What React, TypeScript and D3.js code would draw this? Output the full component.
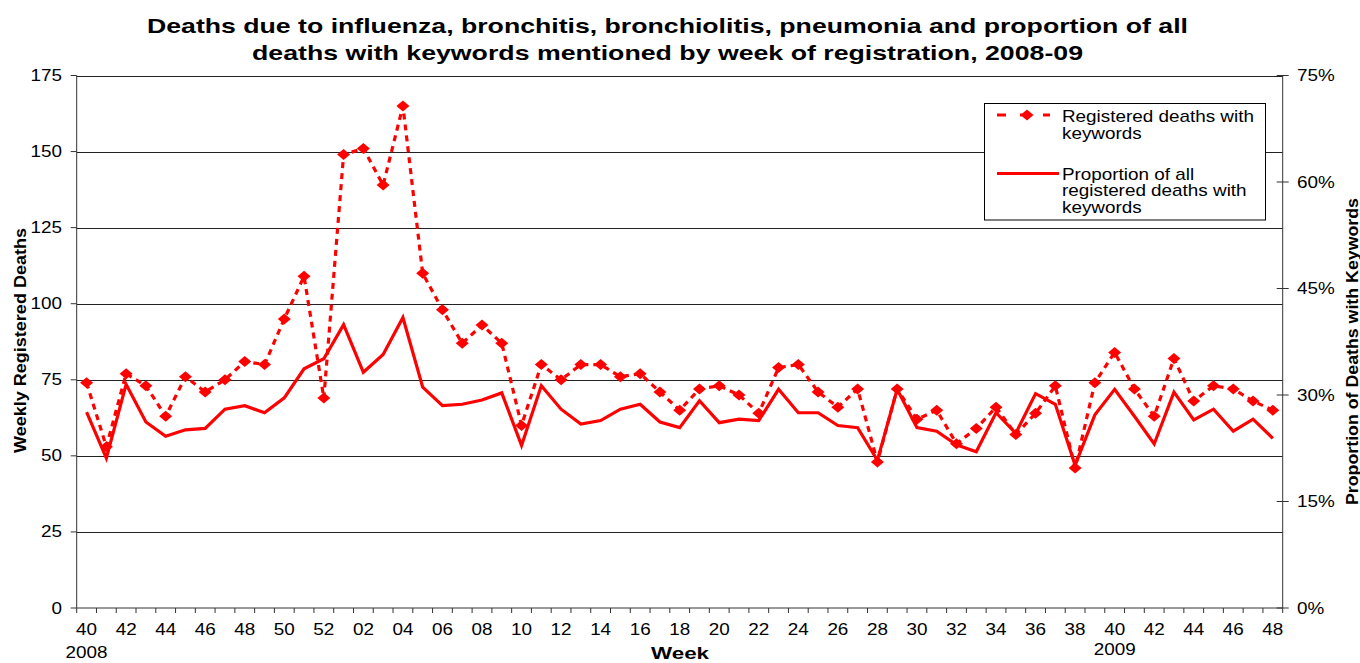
import React from "react";
import * as d3 from "d3";

const weeks = [
  "40","41","42","43","44","45","46","47","48","49","50","51","52",
  "01","02","03","04","05","06","07","08","09","10","11","12","13","14","15","16","17","18","19","20",
  "21","22","23","24","25","26","27","28","29","30","31","32","33","34","35","36","37","38","39","40",
  "41","42","43","44","45","46","47","48",
];
const years = [
  ...Array(13).fill(2008),
  ...Array(48).fill(2009),
];
const deaths = [
  74,53,77,73,63,76,71,75,81,80,95,109,69,
  149,151,139,165,110,98,87,93,87,60,
  80,75,80,80,76,77,71,65,72,73,
  70,64,79,80,71,66,72,48,72,62,
  65,54,59,66,57,64,73,46,74,84,
  72,63,82,68,73,72,68,65,
];
const proportion = [
  27.6,21.1,31.5,26.2,24.2,25.1,25.3,28.0,28.5,27.5,29.6,33.7,35.1,
  39.9,33.2,35.7,40.9,31.1,28.5,28.7,29.3,30.3,22.9,
  31.3,28.0,25.9,26.4,28.0,28.7,26.2,25.4,29.2,26.1,
  26.6,26.4,30.8,27.5,27.5,25.7,25.4,20.8,30.8,25.4,
  24.9,23.0,22.0,27.5,24.6,30.2,28.7,20.1,27.2,30.8,
  27.0,23.1,30.4,26.5,28.0,24.9,26.6,23.9,
];
const leftTicks = [0, 25, 50, 75, 100, 125, 150, 175];
const rightTicks = [0, 15, 30, 45, 60, 75];
const titleLines = [
  "Deaths due to influenza, bronchitis, bronchiolitis, pneumonia and proportion of all",
  "deaths with keywords mentioned by week of registration, 2008-09",
];
const legendDeaths = ["Registered deaths with", "keywords"];
const legendProp = ["Proportion of all", "registered deaths with", "keywords"];

const FONT = "'Liberation Sans', Arial, sans-serif";
const RED = "#FF0000";
const SX = 1.18;

function T(props: { x: number; y: number; anchor?: string; size?: number; bold?: boolean; children: React.ReactNode }) {
  const { x, y, anchor = "start", size = 16, bold = false, children } = props;
  return (
    <text transform={`translate(${x},${y}) scale(${SX},1)`} textAnchor={anchor} fontSize={size} fontWeight={bold ? "bold" : "normal"} fill="#000">
      {children}
    </text>
  );
}

export default function App() {
  const L = 76.7, R = 1282.7, Tp = 75.5, B = 608;
  const keys = weeks.map((w, i) => `${years[i]}-${w}-${i}`);
  const x = d3.scaleBand<string>().domain(keys).range([L, R]).paddingInner(0).paddingOuter(0);
  const bw = x.bandwidth();
  const cx = (i: number) => (x(keys[i]) as number) + bw / 2;
  const yL = d3.scaleLinear().domain([0, 175]).range([B, Tp]);
  const yR = d3.scaleLinear().domain([0, 75]).range([B, Tp]);

  const deathLine = d3.line<number>().x((_, i) => cx(i)).y((d) => yL(d))(deaths) || "";
  const propLine = d3.line<number>().x((_, i) => cx(i)).y((d) => yR(d))(proportion) || "";
  const diamond = "M0,-5.5L6.5,0L0,5.5L-6.5,0Z";

  const boundaries = [...keys.map((k) => x(k) as number), R];

  return (
    <svg width={1360} height={663} style={{ position: "absolute", left: 0, top: 0, display: "block" }} fontFamily={FONT}>
      <rect width={1360} height={663} fill="#fff" />
      {/* title */}
      <text x={667.5} y={33} textAnchor="middle" fontWeight="bold" fontSize={21} fill="#000" textLength={1041} lengthAdjust="spacingAndGlyphs">{titleLines[0]}</text>
      <text x={667.5} y={60} textAnchor="middle" fontWeight="bold" fontSize={21} fill="#000" textLength={831} lengthAdjust="spacingAndGlyphs">{titleLines[1]}</text>
      {/* gridlines */}
      {leftTicks.filter((t) => t > 0).map((t) => (
        <line key={t} x1={L} x2={R} y1={Math.round(yL(t)) + 0.5} y2={Math.round(yL(t)) + 0.5} stroke="#222" strokeWidth={1} />
      ))}
      {/* axes */}
      <line x1={L} x2={L} y1={Tp} y2={B} stroke="#333" />
      <line x1={R} x2={R} y1={Tp} y2={B} stroke="#333" />
      <line x1={L} x2={R} y1={B} y2={B} stroke="#333" />
      {leftTicks.map((t) => (
        <g key={t}>
          <line x1={L - 6} x2={L} y1={yL(t)} y2={yL(t)} stroke="#333" />
          <T x={62} y={yL(t) + 5.5} anchor="end">{t}</T>
        </g>
      ))}
      {rightTicks.map((t) => (
        <g key={t}>
          <line x1={R - 6} x2={R + 6} y1={yR(t)} y2={yR(t)} stroke="#333" />
          <T x={1297} y={yR(t) + 5.5}>{t}%</T>
        </g>
      ))}
      {boundaries.map((b, i) => (
        <line key={i} x1={b} x2={b} y1={B} y2={B + 5} stroke="#333" />
      ))}
      {weeks.map((w, i) => (i % 2 === 0 ? (
        <T key={i} x={cx(i)} y={635} anchor="middle">{w}</T>
      ) : null))}
      <T x={cx(0)} y={658} anchor="middle">2008</T>
      <T x={cx(52)} y={655} anchor="middle">2009</T>
      <text x={680} y={659} textAnchor="middle" fontSize={17} fontWeight="bold" fill="#000" textLength={58} lengthAdjust="spacingAndGlyphs">Week</text>
      <text transform={`translate(26,340.5) rotate(-90)`} textAnchor="middle" fontSize={16.5} fontWeight="bold" fill="#000" textLength={225} lengthAdjust="spacingAndGlyphs">Weekly Registered Deaths</text>
      <text transform={`translate(1358,351.5) rotate(-90)`} textAnchor="middle" fontSize={16.5} fontWeight="bold" fill="#000" textLength={307} lengthAdjust="spacingAndGlyphs">Proportion of Deaths with Keywords</text>
      {/* series */}
      <path d={propLine} fill="none" stroke={RED} strokeWidth={3.2} strokeLinejoin="miter" />
      <path d={deathLine} fill="none" stroke={RED} strokeWidth={3.2} strokeDasharray="6,5" />
      {deaths.map((d, i) => (
        <path key={i} d={diamond} transform={`translate(${cx(i)},${yL(d)})`} fill={RED} />
      ))}
      {/* legend */}
      <rect x={984.5} y={103.5} width={281} height={116.5} fill="#fff" stroke="#000" strokeWidth={1} />
      <line x1={997} x2={1050} y1={115} y2={115} stroke={RED} strokeWidth={3.2} strokeDasharray="9,14" />
      <path d={diamond} transform="translate(1027,115)" fill={RED} />
      {legendDeaths.map((t, i) => (
        <T key={i} x={1062} y={121.5 + i * 17}>{t}</T>
      ))}
      <line x1={997} x2={1059} y1={173.5} y2={173.5} stroke={RED} strokeWidth={3.2} />
      {legendProp.map((t, i) => (
        <T key={i} x={1062} y={179.5 + i * 16.5}>{t}</T>
      ))}
    </svg>
  );
}
